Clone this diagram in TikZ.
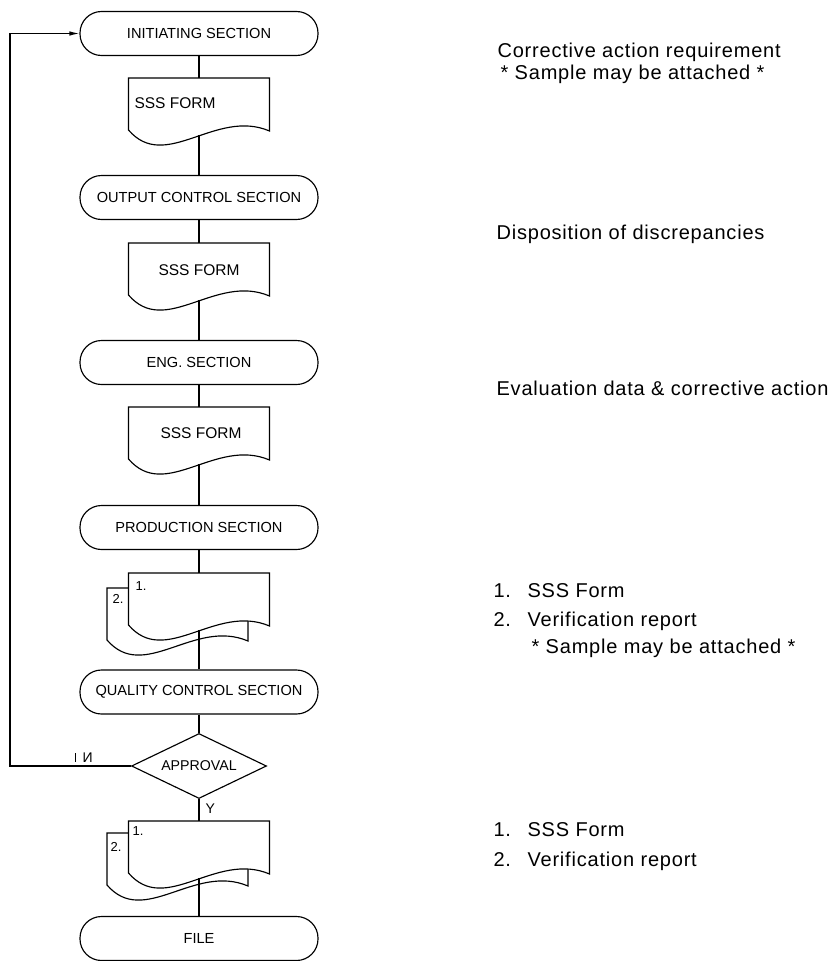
\documentclass[tikz,border=0pt]{standalone}
\usepackage{fontspec}
\setmainfont{Liberation Sans}
\newfontfamily\notefont[LetterSpace=4]{Liberation Sans}
\usetikzlibrary{shapes.geometric,arrows.meta,calc}

% a document sheet with a wavy lower edge; #1 name, #2 left x, #3 top y
\newcommand\formsheet[3]{%
  \node[sheet, anchor=north west] (#1) at (#2,#3) {};
  \begin{scope}[shift={(#1.north west)}]
    \draw[fill=white] (0,0) -- (141,0) -- (141,53)
      .. controls (87,30) and (37,95) .. (0,52) -- cycle;
    \coordinate (#1-out) at (70.5,57);
  \end{scope}}

\begin{document}
\begin{tikzpicture}[x=1pt,y=-1pt,line width=1.15pt,
  term/.style={draw, rounded corners=21.5pt, minimum width=238pt,
    minimum height=44pt, inner sep=0pt, font=\fontsize{14.6}{16}\selectfont},
  sheet/.style={minimum width=141pt, minimum height=52pt, inner sep=0pt, outer sep=0pt},
  decide/.style={draw, diamond, aspect=2, minimum width=135pt,
    minimum height=65pt, inner sep=0pt, font=\fontsize{14.2}{16}\selectfont},
  formtext/.style={font=\fontsize{15.5}{18}\selectfont, inner sep=0pt},
  copyno/.style={font=\fontsize{13}{15}\selectfont, inner sep=0pt, anchor=base west},
  note/.style={font=\notefont\fontsize{20}{24}\selectfont, inner sep=0pt, anchor=base west},
  flag/.style={font=\fontsize{14}{16}\selectfont, inner sep=0pt, anchor=base west},
  link/.style={draw},
  back/.style={draw, -{Latex[length=10pt,width=4.5pt]}},
]
\useasboundingbox (0,0) rectangle (836,961);

% process steps
\node[term] (init) at (199,33.5) {INITIATING SECTION};
\node[term] (outc) at (199,197.5) {OUTPUT CONTROL SECTION};
\node[term] (eng)  at (199,362.5) {ENG. SECTION};
\node[term] (prod) at (199,527.5) {PRODUCTION SECTION};
\node[term] (qc)   at (199,692) {QUALITY CONTROL SECTION};
\node[decide] (ok) at (199,766) {APPROVAL};
\node[term] (file) at (199,938.5) {FILE};

% single forms
\formsheet{f1}{128.5}{78}
\node[formtext] (f1t) at (175,103) {SSS FORM};
\formsheet{f2}{128.5}{243}
\node[formtext] (f2t) at (199,270) {SSS FORM};
\formsheet{f3}{128.5}{407}
\node[formtext] (f3t) at (201,433) {SSS FORM};

% two-copy form sets
\formsheet{m1b}{107}{588}
\formsheet{m1}{128.5}{573}
\node[copyno] (m1n1) at (135,590) {1.};
\node[copyno] (m1n2) at (112,603) {2.};
\formsheet{m2b}{107}{833}
\formsheet{m2}{128.5}{821}
\node[copyno] (m2n1) at (132,835) {1.};
\node[copyno] (m2n2) at (110,851) {2.};

% flow lines
\draw[link] (init.south) -- (f1.north);
\draw[link] (f1-out) -- (outc.north);
\draw[link] (outc.south) -- (f2.north);
\draw[link] (f2-out) -- (eng.north);
\draw[link] (eng.south) -- (f3.north);
\draw[link] (f3-out) -- (prod.north);
\draw[link] (prod.south) -- (m1.north);
\draw[link] (m1-out) -- (qc.north);
\draw[link] (qc.south) -- (ok.north);
\draw[link] (ok.south) -- (m2.north);
\draw[link] (m2-out) -- (file.north);

% rejection loop back to the start
\coordinate (loopx) at (10,0);
\draw[back] (ok.west) -- (ok.west -| loopx) |- (init.west);
\node[flag] (no) at (82,762) {И};
\draw[line width=0.5pt] (75,753) -- (75,762);
\node[flag] (yes) at (205,813) {Y};

% notes
\node[note] (n1a) at (497,57) {Corrective action requirement};
\node[note] (n1b) at (500,79) {* Sample may be attached *};
\node[note] (n2)  at (496,239) {Disposition of discrepancies};
\node[note] (n3)  at (496,395) {Evaluation data \& corrective action};
\node[note] (n4a) at (493,597) {1.};
\node[note] (n4b) at (527,597) {SSS Form};
\node[note] (n4c) at (493,626) {2.};
\node[note] (n4d) at (527,626) {Verification report};
\node[note] (n4e) at (531,653) {* Sample may be attached *};
\node[note] (n5a) at (493,836) {1.};
\node[note] (n5b) at (527,836) {SSS Form};
\node[note] (n5c) at (493,866) {2.};
\node[note] (n5d) at (527,866) {Verification report};
\end{tikzpicture}
\end{document}
